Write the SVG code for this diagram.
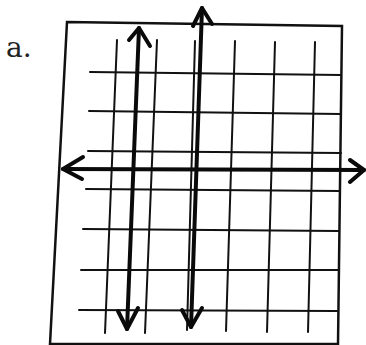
<svg xmlns="http://www.w3.org/2000/svg" width="366" height="345" viewBox="0 0 366 345">
<style>
.frame{fill:none;stroke:#111;stroke-width:2.5}
.grid line{stroke:#111;stroke-width:2;stroke-linecap:round}
.axis{fill:none;stroke:#0a0a0a;stroke-width:4;stroke-linecap:round;stroke-linejoin:round}
.lbl{font-family:"DejaVu Serif","Liberation Serif",serif;font-size:28px;fill:#222}
</style>
<rect width="366" height="345" fill="#fff"/>
<g id="label"><text class="lbl" x="6" y="57">a.</text></g>
<g id="frame"><polygon class="frame" points="67,22 342,26 338,344 50,344"/></g>
<g id="grid" class="grid">
<line x1="117" y1="40" x2="105" y2="333"/>
<line x1="157" y1="40" x2="145" y2="333"/>
<line x1="195" y1="41" x2="187" y2="330"/>
<line x1="235" y1="41" x2="226" y2="331"/>
<line x1="275" y1="42" x2="267" y2="332"/>
<line x1="315" y1="42" x2="308" y2="332"/>
<line x1="90" y1="72" x2="341" y2="75"/>
<line x1="89" y1="111" x2="341" y2="114"/>
<line x1="88" y1="151" x2="341" y2="153"/>
<line x1="86" y1="189" x2="340" y2="191"/>
<line x1="83" y1="229" x2="339" y2="231"/>
<line x1="81" y1="270" x2="338" y2="270"/>
<line x1="79" y1="310" x2="337" y2="311"/>
</g>
<g id="connectors">
<g id="x-axis">
<path class="axis" d="M63,169 L364,170"/>
<path class="axis" d="M83,157 L63,169 L82,179"/>
<path class="axis" d="M350,160 L364,170 L350,182"/>
</g>
<g id="line-1">
<path class="axis" d="M139,28 L127,329"/>
<path class="axis" d="M129,40 L139,28 L150,46"/>
<path class="axis" d="M118,311 L127,329 L138,308"/>
</g>
<g id="line-2">
<path class="axis" d="M202,8 L191,327"/>
<path class="axis" d="M193,26 L202,8 L212,24"/>
<path class="axis" d="M182,310 L191,327 L202,308"/>
</g>
</g>
</svg>
